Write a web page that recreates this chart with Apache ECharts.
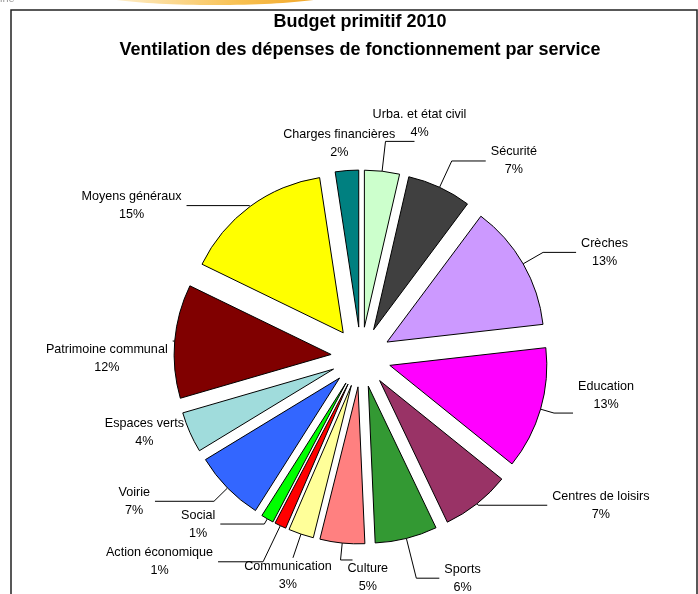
<!DOCTYPE html>
<html lang="fr">
<head>
<meta charset="UTF-8">
<title>Budget primitif 2010</title>
<script src="https://cdn.jsdelivr.net/npm/echarts@6/dist/echarts.min.js"></script>
<style>html, body { margin: 0; padding: 0; background: #fff; }</style>
</head>
<body>
<div id="main" style="width: 698px; height: 594px"></div>
<script>
// services, clockwise from 12 o'clock
var services = ['Urba. et état civil', 'Sécurité', 'Crèches', 'Education', 'Centres de loisirs',
  'Sports', 'Culture', 'Communication', 'Action économique', 'Social', 'Voirie',
  'Espaces verts', 'Patrimoine communal', 'Moyens généraux', 'Charges financières'];
// share of spending (%)
var parts = [3.6, 6.6, 13.0, 12.6, 7.1, 6.4, 4.6, 2.6, 1.2, 1.3, 7.3, 4.2, 11.7, 15.4, 2.4];
var colors = ['#CCFFCC', '#404040', '#CC99FF', '#FF00FF', '#993366', '#339933', '#FF8080',
  '#FFFF99', '#FF0000', '#00FF00', '#3366FF', '#A0DCDC', '#800000', '#FFFF00', '#008080'];

// leader lines: [length, length2, text align, vertical align, show line]
var leaders = [
  [30, 29, 'center', 'bottom', true],
  [29, 34, 'left', 'middle', true],
  [23, 33, 'left', 'middle', true],
  [14, 19, 'left', 'bottom', true],
  [2, 69, 'left', 'middle', true],
  [41, 23, 'left', 'middle', true],
  [17, -12, 'left', 'top', true],
  [25, 0, 'center', 'top', true],
  [40, 45, 'right', 'middle', true],
  [6, 44, 'right', 'middle', true],
  [19, 59, 'right', 'middle', true],
  [1, 0, 'right', 'middle', false],
  [2, 0, 'right', 'top', true],
  [1, 63, 'right', 'middle', true],
  [9, 2, 'center', 'bottom', false]
];

var font = '"Liberation Sans", Arial, sans-serif';
var chart = echarts.init(document.getElementById('main'));

var data = services.map(function (s, i) {
  var l = leaders[i];
  return {
    name: s,
    value: parts[i],
    selected: true,
    itemStyle: { color: colors[i] },
    labelLine: { show: l[4], length: l[0], length2: l[1] }
  };
});

var option = {
  animation: false,
  title: {
    text: 'Budget primitif 2010\nVentilation des dépenses de fonctionnement par service',
    left: 355,
    top: 3,
    textAlign: 'center',
    textStyle: { fontFamily: font, fontSize: 18, fontWeight: 'bold', color: '#000', lineHeight: 28 }
  },
  graphic: [
    {
      type: 'ellipse',
      shape: { cx: 215, cy: -8, rx: 125, ry: 13 },
      style: {
        fill: new echarts.graphic.LinearGradient(0, 0, 1, 0, [
          { offset: 0, color: '#fff6e0' },
          { offset: 0.6, color: '#f8c050' },
          { offset: 1, color: '#f0a020' }
        ])
      },
      silent: true
    },
    {
      type: 'text',
      left: 0,
      top: -7,
      style: { text: 'ine', fill: '#999', font: '11px ' + font },
      silent: true
    },
    {
      type: 'rect',
      shape: { x: 11, y: 10, width: 686, height: 620 },
      style: { fill: 'none', stroke: '#222', lineWidth: 1.5 },
      silent: true
    }
  ],
  series: [
    {
      type: 'pie',
      center: [361, 357],
      radius: 157,
      startAngle: 90,
      clockwise: true,
      selectedMode: 'multiple',
      selectedOffset: 30,
      percentPrecision: 0,
      avoidLabelOverlap: false,
      data: data,
      itemStyle: { borderColor: '#000', borderWidth: 1 },
      select: { itemStyle: { borderColor: '#000', borderWidth: 1 } },
      emphasis: { disabled: true },
      label: {
        show: true,
        position: 'outside',
        formatter: '{n|{b}}\n{n|{d}%}',
        rich: {
          n: { fontFamily: font, fontSize: 12.6, color: '#000', align: 'center', lineHeight: 18 }
        }
      },
      labelLine: {
        show: true,
        minTurnAngle: 0,
        maxSurfaceAngle: 180,
        lineStyle: { color: '#000', width: 1 }
      },
      labelLayout: function (params) {
        var l = leaders[params.dataIndex];
        return { align: l[2], verticalAlign: l[3] };
      }
    }
  ]
};
chart.setOption(option);
</script>
</body>
</html>
